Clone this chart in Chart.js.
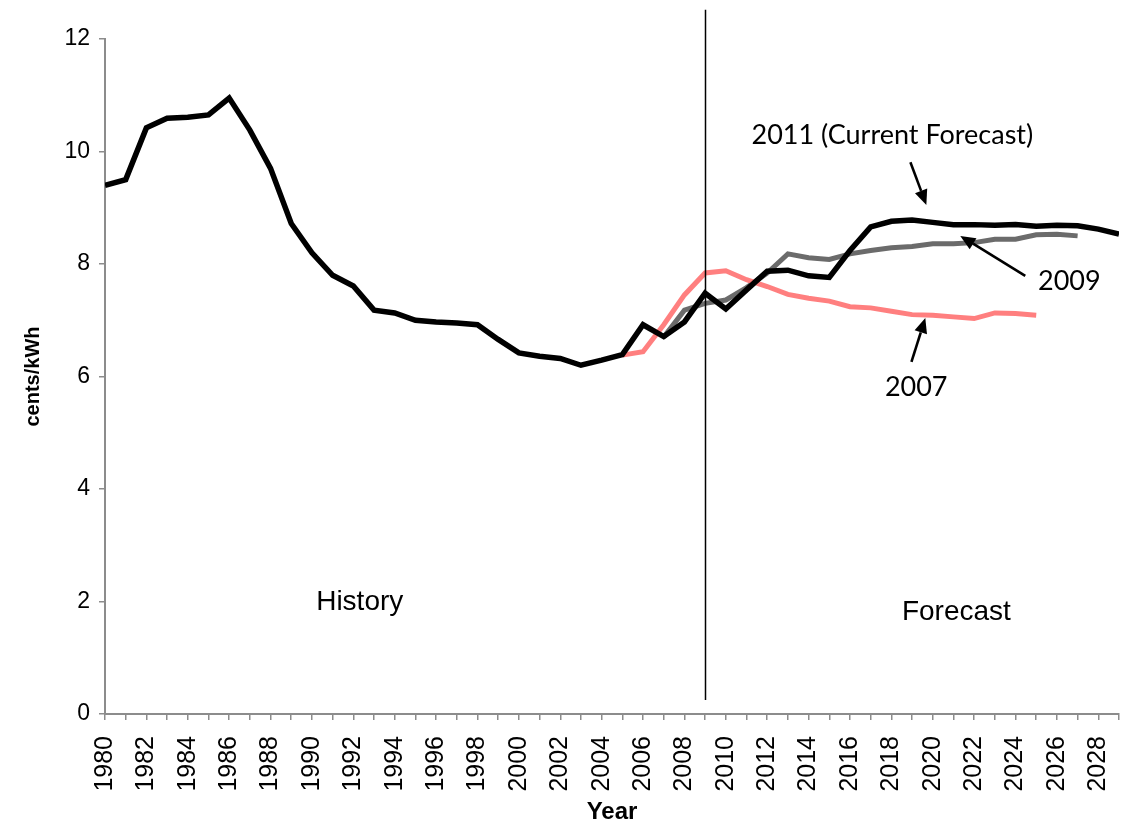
<!DOCTYPE html>
<html><head><meta charset="utf-8">
<script src="https://cdn.jsdelivr.net/npm/chart.js@4"></script>
<style>html,body{margin:0;padding:0;background:#fff}#wrap{width:1123px;height:824px;position:relative}</style>
</head><body><div id="wrap"><canvas id="c" width="1123" height="824"></canvas></div>
<script>
// Categories (years)
const years = [1980,1981,1982,1983,1984,1985,1986,1987,1988,1989,1990,1991,1992,1993,1994,1995,1996,1997,1998,1999,
  2000,2001,2002,2003,2004,2005,2006,2007,2008,2009,2010,2011,2012,2013,2014,2015,2016,2017,2018,2019,
  2020,2021,2022,2023,2024,2025,2026,2027,2028,2029];
// History + 2011 (Current Forecast), cents/kWh
const values2011 = [9.40,9.50,10.42,10.59,10.61,10.65,10.95,10.38,9.70,8.72,8.20,7.80,7.61,7.18,7.13,7.00,6.97,6.95,6.92,6.66,
  6.42,6.36,6.32,6.20,6.29,6.39,6.92,6.71,6.97,7.48,7.20,7.54,7.87,7.89,7.79,7.76,8.24,8.66,8.76,8.78,
  8.74,8.70,8.70,8.69,8.70,8.67,8.69,8.68,8.62,8.53];
// 2009 forecast
const years2009 = [2007,2008,2009,2010,2011,2012,2013,2014,2015,2016,2017,2018,2019,2020,2021,2022,2023,2024,2025,2026,2027];
const values2009 = [6.70,7.18,7.30,7.36,7.58,7.84,8.18,8.11,8.08,8.18,8.24,8.29,8.31,8.36,8.36,8.38,8.44,8.44,8.52,8.53,8.50];
// 2007 forecast
const years2007 = [2005,2006,2007,2008,2009,2010,2011,2012,2013,2014,2015,2016,2017,2018,2019,2020,2021,2022,2023,2024,2025];
const values2007 = [6.38,6.44,6.92,7.45,7.84,7.88,7.72,7.60,7.46,7.39,7.34,7.24,7.22,7.16,7.10,7.09,7.06,7.03,7.13,7.12,7.09];
// Y ticks
const yTicks = [0,2,4,6,8,10,12];

// Annotations (data coordinates)
const dividerYear = 2009;
const textNotes = [
  {text:'History', x:1992.31, y:1.99, font:'28px "Liberation Sans", Arial, sans-serif'},
  {text:'Forecast', x:2021.14, y:1.80, font:'28px "Liberation Sans", Arial, sans-serif'},
  {text:'2011 (Current Forecast)', x:2018.05, y:10.29, font:'27px Lato, sans-serif'},
  {text:'2009', x:2026.6, y:7.70, font:'27px Lato, sans-serif'},
  {text:'2007', x:2019.2, y:5.81, font:'27px Lato, sans-serif'}
];
const arrows = [
  {x1:2018.92, y1:9.81, x2:2019.69, y2:9.05},
  {x1:2024.47, y1:7.79, x2:2021.33, y2:8.50},
  {x1:2018.97, y1:6.26, x2:2019.64, y2:7.04}
];

const toXY = (xs, vs) => xs.map((x, i) => ({x: x, y: vs[i]}));

const notesPlugin = {
  id: 'notes',
  afterDatasetsDraw(chart) {
    const ctx = chart.ctx, xs = chart.scales.x, ys = chart.scales.y;
    ctx.save();
    const dx = Math.round(xs.getPixelForValue(dividerYear)) + 0.5;
    ctx.strokeStyle = '#000'; ctx.lineWidth = 1.5;
    ctx.beginPath(); ctx.moveTo(dx, ys.getPixelForValue(12.52)); ctx.lineTo(dx, ys.getPixelForValue(0.25)); ctx.stroke();
    arrows.forEach(a => {
      const x1 = xs.getPixelForValue(a.x1), y1 = ys.getPixelForValue(a.y1);
      const x2 = xs.getPixelForValue(a.x2), y2 = ys.getPixelForValue(a.y2);
      const ang = Math.atan2(y2 - y1, x2 - x1);
      const hl = 15, hw = 6.5;
      const bx = x2 - hl * Math.cos(ang), by = y2 - hl * Math.sin(ang);
      ctx.lineWidth = 2.6; ctx.strokeStyle = '#000'; ctx.fillStyle = '#000';
      ctx.beginPath(); ctx.moveTo(x1, y1); ctx.lineTo(bx, by); ctx.stroke();
      ctx.beginPath();
      ctx.moveTo(x2, y2);
      ctx.lineTo(bx + hw * Math.sin(ang), by - hw * Math.cos(ang));
      ctx.lineTo(bx - hw * Math.sin(ang), by + hw * Math.cos(ang));
      ctx.closePath(); ctx.fill();
    });
    ctx.fillStyle = '#000'; ctx.textAlign = 'center'; ctx.textBaseline = 'middle';
    textNotes.forEach(t => {
      ctx.font = t.font;
      ctx.fillText(t.text, xs.getPixelForValue(t.x), ys.getPixelForValue(t.y));
    });
    ctx.restore();
  }
};

Chart.defaults.font.family = '"Liberation Sans", Arial, sans-serif';
Chart.defaults.color = '#000';

new Chart(document.getElementById('c'), {
  type: 'line',
  data: {
    datasets: [
      {label: '2009', data: toXY(years2009, values2009), borderColor: '#6b6b6b', borderWidth: 5, pointRadius: 0, tension: 0, order: 3},
      {label: '2007', data: toXY(years2007, values2007), borderColor: 'rgba(255,105,105,0.85)', borderWidth: 5, pointRadius: 0, tension: 0, order: 2},
      {label: '2011 (Current Forecast)', data: toXY(years, values2011), borderColor: '#000', borderWidth: 5.5, pointRadius: 0, tension: 0, order: 1}
    ]
  },
  options: {
    responsive: false,
    animation: false,
    layout: {padding: {top: 39, right: 4, left: 0, bottom: 0}},
    plugins: {legend: {display: false}, tooltip: {enabled: false}},
    scales: {
      x: {
        type: 'linear', min: 1980, max: 2029,
        afterFit: s => { s.height = 110; s.paddingLeft = 0; s.paddingRight = 0; },
        grid: {drawOnChartArea: false, drawTicks: true, tickLength: 6, color: '#8c8c8c', lineWidth: 1.5},
        border: {color: '#8c8c8c', width: 2},
        ticks: {
          stepSize: 1, autoSkip: false, minRotation: 90, maxRotation: 90, padding: 16,
          font: {size: 25}, color: '#000',
          callback: v => (years.includes(v) && (v - years[0]) % 2 === 0) ? String(v) : ''
        },
        title: {display: true, text: 'Year', font: {size: 24, weight: 'bold', lineHeight: 1}, padding: {top: 0, bottom: 0}, color: '#000'}
      },
      y: {
        min: 0, max: 12,
        afterFit: s => { s.width = 105; },
        afterBuildTicks: s => { s.ticks = yTicks.map(v => ({value: v})); },
        grid: {drawOnChartArea: false, drawTicks: true, tickLength: 6, color: '#8c8c8c', lineWidth: 1.5},
        border: {color: '#8c8c8c', width: 2},
        ticks: {padding: 9, font: {size: 23}, color: '#000'},
        title: {display: true, text: 'cents/kWh', font: {size: 20, weight: 'bold'}, padding: {top: 21, bottom: 0}, color: '#000'}
      }
    }
  },
  plugins: [notesPlugin]
});
</script></body></html>
